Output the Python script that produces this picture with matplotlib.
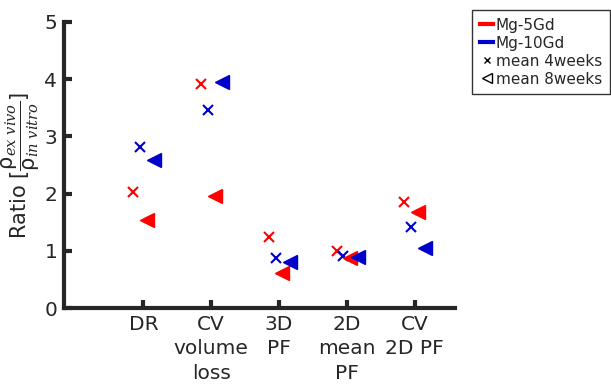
import numpy as np
import matplotlib.pyplot as plt
from matplotlib.lines import Line2D

# Categorias e valores
categories = ["DR", "CV\nvolume\nloss", "3D\nPF", "2D\nmean\nPF", "CV\n2D PF"]
mg5_4w = [2.03, 3.92, 1.24, 1.00, 1.85]
mg10_4w = [2.81, 3.46, 0.87, 0.91, 1.42]
mg5_8w = [1.54, 1.96, 0.61, 0.87, 1.68]
mg10_8w = [2.59, 3.95, 0.80, 0.89, 1.05]

red = "#ff0000"
blue = "#0000cc"
txt = "#262626"

plt.rcParams["mathtext.fontset"] = "custom"
plt.rcParams["mathtext.rm"] = "DejaVu Sans"
plt.rcParams["mathtext.it"] = "DejaVu Serif:italic"

fig = plt.figure(figsize=(6.11, 3.91), dpi=100)
ax = fig.add_axes([0.105, 0.212, 0.64, 0.732])

x = np.arange(1, len(categories) + 1)
ax.plot(x - 0.15, mg5_4w, "x", color=red, ms=7, mew=1.5, ls="none")
ax.plot(x - 0.05, mg10_4w, "x", color=blue, ms=7, mew=1.5, ls="none")
ax.plot(x + 0.05, mg5_8w, "<", color=red, ms=10, ls="none")
ax.plot(x + 0.16, mg10_8w, "<", color=blue, ms=10, ls="none")

ax.set_xlim(-0.17, 5.6)
ax.set_ylim(0, 5)
ax.set_xticks(x)
ax.set_xticklabels(categories, fontsize=14.5, color=txt, linespacing=1.35)
ax.set_yticks(range(6))
ax.set_yticklabels([str(v) for v in range(6)], fontsize=14.5, color=txt)
ax.tick_params(direction="in", length=6, width=3, color=txt, pad=5)
ax.spines["top"].set_visible(False)
ax.spines["right"].set_visible(False)
for s in ("left", "bottom"):
    ax.spines[s].set_linewidth(3)
    ax.spines[s].set_color(txt)

ax.set_ylabel(r"Ratio [$\dfrac{\mathrm{\rho}_{ex\ vivo}}{\mathrm{\rho}_{in\ vitro}}$]",
              fontsize=15, color=txt, labelpad=2)

handles = [
    Line2D([], [], color=red, lw=3),
    Line2D([], [], color=blue, lw=3),
    Line2D([], [], color="black", marker="x", ms=5, mew=1, ls="none"),
    Line2D([], [], color="black", marker="<", ms=7, mew=1, ls="none", fillstyle="none"),
]
labels = ["Mg-5Gd", "Mg-10Gd", "mean 4weeks", "mean 8weeks"]
leg = fig.legend(handles, labels, loc="upper left", bbox_to_anchor=(472 / 611, 1 - 10 / 391),
                 fontsize=11, handlelength=0.9, handletextpad=0.15, labelspacing=0.2,
                 borderpad=0.5, borderaxespad=0, fancybox=False, frameon=True)
leg.get_frame().set_edgecolor("black")
leg.get_frame().set_linewidth(1)
for t in leg.get_texts():
    t.set_color(txt)

fig.savefig("out.png", dpi=100)
